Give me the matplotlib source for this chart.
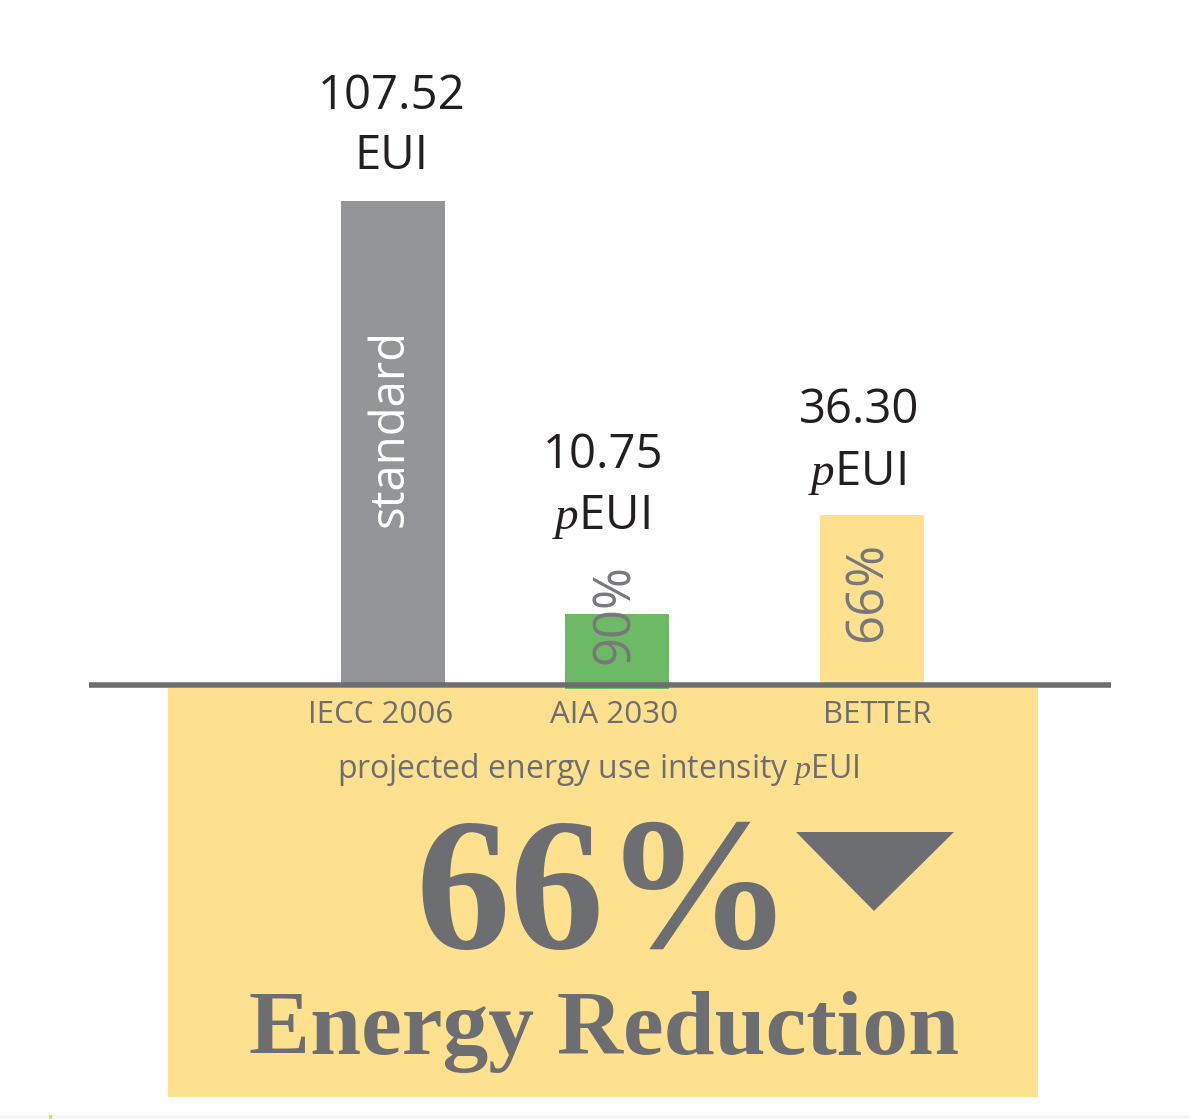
import matplotlib
matplotlib.use("Agg")
import matplotlib.pyplot as plt
from matplotlib.patches import Rectangle, Polygon

# ---------------- data ----------------
categories = ["IECC 2006", "AIA 2030", "BETTER"]
eui_values = [107.52, 10.75, 36.30]          # values printed above bars
eui_units = ["EUI", r"$p$EUI", r"$p$EUI"]
bar_tops = [107.52, 15.8, 37.8]              # bar tops as drawn in the picture
bar_texts = ["standard", "90%", "66%"]
reduction_value = "66%"
reduction_label = "Energy Reduction"
axis_title = r"projected energy use intensity $p$EUI"

# ---------------- style ----------------
W, H = 1190, 1119
YELLOW = "#fee18f"
GREY_BAR = "#939598"
GREEN = "#6db965"
DARK = "#6d6e71"
BLACK = "#231f20"
PCT_GREY = "#77787b"
bar_colors = [GREY_BAR, GREEN, YELLOW]
bar_text_colors = ["white", PCT_GREY, PCT_GREY]

plt.rcParams["font.family"] = ["Open Sans", "DejaVu Sans"]
plt.rcParams["mathtext.fontset"] = "custom"
plt.rcParams["mathtext.it"] = "Liberation Serif:italic"
plt.rcParams["mathtext.rm"] = "Open Sans"

fig = plt.figure(figsize=(W / 100, H / 100), dpi=100)
fig.patch.set_facecolor("white")


def fx(x):
    return x / W


def fy(y):
    return 1 - y / H


# axes covering whole figure: y=0 at baseline px 685, 4.5 px per unit; x: 224 px per unit, bar 0 at px 393
base_px, y_scale = 685.0, 4.5
x0_px, x_scale = 393.0, 224.0
ax = fig.add_axes([0, 0, 1, 1])
ax.set_xlim(-x0_px / x_scale, (W - x0_px) / x_scale)
ax.set_ylim(-(H - base_px) / y_scale, base_px / y_scale)
ax.axis("off")
ax.patch.set_alpha(0)

bar_x = [0.0, 1.0, 2.138]
bar_w = 0.462
bar_bottoms = [0.0, -0.8, 0.0]
bar_heights = [t - b for t, b in zip(bar_tops, bar_bottoms)]

# big yellow panel
fig.add_artist(Rectangle((fx(168), fy(1097)), fx(1038) - fx(168), fy(688) - fy(1097),
                         transform=fig.transFigure, facecolor=YELLOW, edgecolor="none", zorder=0))
# faint bottom strip
fig.add_artist(Rectangle((0, 0), 1, fy(1115), transform=fig.transFigure,
                         facecolor="#f6f6f6", edgecolor="none", zorder=0))
fig.add_artist(Rectangle((fx(49), 0), fx(3), fy(1115), transform=fig.transFigure,
                         facecolor="#e8e31a", edgecolor="none", zorder=0))

# bars
ax.bar(bar_x, bar_heights, width=bar_w, bottom=bar_bottoms, color=bar_colors,
       edgecolor="none", zorder=2)

# baseline
ax.hlines(0, (89 - x0_px) / x_scale, (1111 - x0_px) / x_scale, color=DARK, lw=4.0, zorder=3)

# value labels above bars
val_pos = [(392, 109, 391, 169), (603, 468, 601, 529), (859, 423, 857, 485)]
for v, u, (xv, yv, xu, yu) in zip(eui_values, eui_units, val_pos):
    fig.text(fx(xv), fy(yv), f"{v:.2f}", ha="center", va="baseline",
             fontsize=34, color=BLACK, zorder=5)
    fig.text(fx(xu), fy(yu), u, ha="center", va="baseline",
             fontsize=34, color=BLACK, zorder=5)

# rotated texts in bars
rot_pos = [(390, 428, 34), (615, 614, 36.5), (868, 592, 36.5)]
for t, c, (xr, yr, fs) in zip(bar_texts, bar_text_colors, rot_pos):
    fig.text(fx(xr), fy(yr), t, rotation=90, ha="center", va="center",
             fontsize=fs, color=c, zorder=5)

# category labels
cat_x = [381, 614, 877]
for c, xc in zip(categories, cat_x):
    fig.text(fx(xc), fy(723), c, ha="center", va="baseline", fontsize=22.5, color=DARK, zorder=5)

fig.text(fx(598), fy(778), axis_title, ha="center", va="baseline", fontsize=23,
         color=DARK, zorder=5)

# big reduction text
fig.text(fx(604), fy(948), reduction_value, ha="center", va="baseline",
         fontsize=136, fontweight="bold", family=["Liberation Serif", "DejaVu Serif"],
         color=DARK, zorder=5)
fig.add_artist(Polygon([(fx(796), fy(832)), (fx(954), fy(832)), (fx(874), fy(911))],
                       closed=True, transform=fig.transFigure, facecolor=DARK,
                       edgecolor="none", zorder=5))
fig.text(fx(604.5), fy(1054), reduction_label, ha="center", va="baseline",
         fontsize=66, fontweight="bold", family=["Liberation Serif", "DejaVu Serif"],
         color=DARK, zorder=5)

fig.savefig("out.png", dpi=100, facecolor="white")
